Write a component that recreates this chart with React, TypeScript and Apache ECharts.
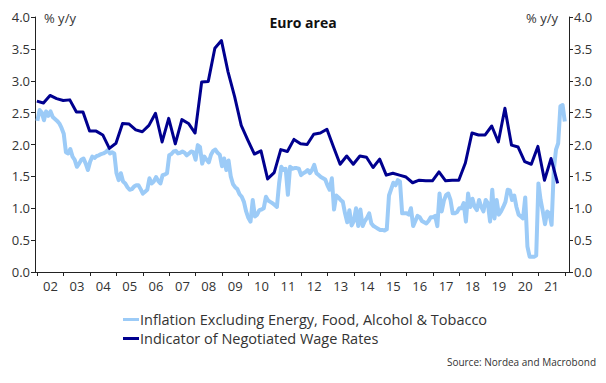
import React, { useEffect, useRef } from "react";
import * as echarts from "echarts";

// Monthly core inflation (Inflation Excluding Energy, Food, Alcohol & Tobacco), Jan 2002 .. Jan 2022
const coreStart = 2002.0;
const core2002 = [2.37, 2.54, 2.50, 2.38, 2.52, 2.45, 2.52, 2.43, 2.40, 2.37, 2.33, 2.26];
const core2003 = [2.17, 1.88, 1.86, 1.93, 1.81, 1.76, 1.65, 1.70, 1.76, 1.78, 1.70, 1.60];
const core2004 = [1.73, 1.81, 1.79, 1.82, 1.83, 1.85, 1.86, 1.88, 1.91, 1.86, 1.88, 1.86];
const core2005 = [1.55, 1.44, 1.55, 1.42, 1.39, 1.33, 1.29, 1.30, 1.34, 1.36, 1.36, 1.30];
const core2006 = [1.23, 1.26, 1.29, 1.47, 1.39, 1.42, 1.49, 1.43, 1.39, 1.52, 1.53, 1.55];
const core2007 = [1.83, 1.85, 1.89, 1.90, 1.86, 1.87, 1.89, 1.87, 1.83, 1.86, 1.89, 1.88];
const core2008 = [1.76, 1.99, 1.96, 1.70, 1.81, 1.76, 1.72, 1.84, 1.90, 1.92, 1.87, 1.84];
const core2009 = [1.66, 1.78, 1.60, 1.75, 1.50, 1.38, 1.33, 1.30, 1.22, 1.18, 1.10, 0.95];
const core2010 = [0.85, 0.79, 1.13, 0.87, 0.90, 0.97, 0.98, 1.00, 1.18, 1.12, 1.10, 1.08];
const core2011 = [1.05, 1.02, 1.39, 1.65, 1.60, 1.62, 1.21, 1.65, 1.62, 1.63, 1.63, 1.62];
const core2012 = [1.52, 1.55, 1.57, 1.60, 1.55, 1.60, 1.68, 1.55, 1.52, 1.49, 1.47, 1.45];
const core2013 = [1.36, 1.29, 1.47, 0.98, 1.20, 1.17, 1.13, 1.10, 0.92, 0.78, 0.97, 0.73];
const core2014 = [0.80, 1.00, 0.72, 0.98, 0.72, 0.80, 0.85, 0.92, 0.76, 0.72, 0.70, 0.68];
const core2015 = [0.66, 0.66, 0.65, 0.67, 1.20, 1.30, 1.40, 1.36, 1.44, 1.42, 0.92, 0.92];
const core2016 = [0.92, 0.90, 1.00, 0.72, 0.80, 0.88, 0.86, 0.80, 0.78, 0.76, 0.80, 0.86];
const core2017 = [0.86, 0.88, 0.72, 1.23, 0.95, 1.12, 1.21, 1.23, 1.13, 0.92, 0.92, 0.94];
const core2018 = [1.00, 1.00, 1.08, 0.79, 1.23, 1.02, 1.15, 1.02, 0.97, 1.13, 1.02, 0.95];
const core2019 = [1.13, 1.08, 0.79, 1.29, 0.84, 1.13, 0.90, 0.95, 1.02, 1.10, 1.29, 1.28];
const core2020 = [1.13, 1.20, 1.02, 0.90, 0.87, 0.84, 1.17, 0.40, 0.24, 0.24, 0.24, 0.26];
const core2021 = [1.39, 1.13, 0.95, 0.75, 0.95, 0.92, 0.74, 1.60, 1.92, 2.02, 2.60, 2.62];
const core2022 = [2.36];

// Quarterly Indicator of Negotiated Wage Rates
const wageStart = 2001.98;
const wage2002 = [2.68, 2.65, 2.77, 2.72];
const wage2003 = [2.69, 2.70, 2.51, 2.51];
const wage2004 = [2.21, 2.21, 2.15, 1.94];
const wage2005 = [2.02, 2.33, 2.32, 2.23];
const wage2006 = [2.20, 2.30, 2.49, 2.04];
const wage2007 = [2.41, 2.01, 2.39, 2.33];
const wage2008 = [2.18, 2.98, 2.99, 3.51];
const wage2009 = [3.63, 3.14, 2.75, 2.30];
const wage2010 = [2.07, 1.85, 1.90, 1.46];
const wage2011 = [1.56, 1.92, 1.89, 2.08];
const wage2012 = [2.01, 2.00, 2.16, 2.18];
const wage2013 = [2.24, 1.96, 1.69, 1.82];
const wage2014 = [1.69, 1.82, 1.80, 1.64];
const wage2015 = [1.77, 1.52, 1.55, 1.52];
const wage2016 = [1.49, 1.40, 1.44, 1.43];
const wage2017 = [1.43, 1.57, 1.43, 1.44];
const wage2018 = [1.44, 1.71, 2.18, 2.15];
const wage2019 = [2.15, 2.29, 2.04, 2.57];
const wage2020 = [1.99, 1.96, 1.73, 1.69];
const wage2021 = [1.97, 1.44, 1.78, 1.39];

const yearTicks = [2002, 2003, 2004, 2005, 2006, 2007, 2008, 2009, 2010, 2011, 2012, 2013, 2014, 2015, 2016, 2017, 2018, 2019, 2020, 2021, 2022];
const yearLabels = ["02", "03", "04", "05", "06", "07", "08", "09", "10", "11", "12", "13", "14", "15", "16", "17", "18", "19", "20", "21"];

const seriesNames = ["Inflation Excluding Energy, Food, Alcohol & Tobacco", "Indicator of Negotiated Wage Rates"];

const coreValues = [
  ...core2002, ...core2003, ...core2004, ...core2005, ...core2006, ...core2007, ...core2008,
  ...core2009, ...core2010, ...core2011, ...core2012, ...core2013, ...core2014, ...core2015,
  ...core2016, ...core2017, ...core2018, ...core2019, ...core2020, ...core2021, ...core2022,
];
const wageValues = [
  ...wage2002, ...wage2003, ...wage2004, ...wage2005, ...wage2006, ...wage2007, ...wage2008,
  ...wage2009, ...wage2010, ...wage2011, ...wage2012, ...wage2013, ...wage2014, ...wage2015,
  ...wage2016, ...wage2017, ...wage2018, ...wage2019, ...wage2020, ...wage2021,
];

const FONT = "'Open Sans', 'Noto Sans', sans-serif";

export default function App() {
  const ref = useRef<HTMLDivElement>(null);
  useEffect(() => {
    document.body.style.margin = "0";
    if (!ref.current) return;
    const chart = echarts.init(ref.current, undefined, { renderer: "svg" });
    const coreData = coreValues.map((v, i) => [coreStart + i / 12, v]);
    const wageData = wageValues.map((v, i) => [wageStart + i * 0.25, v]);
    const labelPos = yearLabels.map((_, i) => yearTicks[i] + 0.5);
    const yAxisCommon = {
      type: "value",
      min: 0,
      max: 4,
      interval: 0.5,
      splitLine: { show: false },
      axisLine: { show: true, lineStyle: { color: "#222", width: 1 } },
      axisTick: { show: true, length: 4, lineStyle: { color: "#222" } },
      axisLabel: {
        color: "#333",
        fontSize: 13,
        fontFamily: FONT,
        margin: 5,
        formatter: (v: number) => v.toFixed(1),
      },
    };
    chart.setOption({
      animation: false,
      backgroundColor: "#fff",
      textStyle: { fontFamily: FONT },
      grid: { left: 35, right: 37, top: 17, bottom: 111, containLabel: false },
      title: {
        text: "Euro area",
        left: "center",
        top: 10,
        textStyle: { fontSize: 14, fontWeight: "bold", color: "#111", fontFamily: FONT },
      },
      graphic: [
        { type: "text", left: 44, top: 11, style: { text: "% y/y", fontSize: 13, fill: "#333", fontFamily: FONT } },
        { type: "text", right: 48, top: 11, style: { text: "% y/y", fontSize: 13, fill: "#333", fontFamily: FONT } },
        { type: "text", right: 10, top: 357, style: { text: "Source: Nordea and Macrobond", fontSize: 10, fill: "#333", fontFamily: FONT } },
      ],
      legend: {
        orient: "vertical",
        left: 118,
        top: 307,
        itemGap: 4,
        itemWidth: 16,
        itemHeight: 3,
        icon: "rect",
        textStyle: { fontSize: 14.5, color: "#333", fontFamily: FONT, padding: [0, 0, 0, -4] },
        data: seriesNames,
      },
      xAxis: {
        type: "value",
        min: 2001.91,
        max: 2022.16,
        splitLine: { show: false },
        axisLine: { show: true, onZero: false, lineStyle: { color: "#222", width: 1 } },
        axisTick: { show: true, length: 4, customValues: yearTicks, lineStyle: { color: "#222" } },
        axisLabel: {
          customValues: labelPos,
          color: "#333",
          fontSize: 13,
          fontFamily: FONT,
          margin: 7,
          formatter: (v: number) => {
            const idx = Math.round(v - 0.5 - 2002);
            return yearLabels[idx] ?? "";
          },
        },
      },
      yAxis: [
        { ...yAxisCommon, position: "left" },
        { ...yAxisCommon, position: "right" },
      ],
      series: [
        {
          name: seriesNames[0],
          type: "line",
          data: coreData,
          showSymbol: false,
          symbol: "none",
          lineStyle: { color: "#9CCBF7", width: 4, join: "round" },
          itemStyle: { color: "#9CCBF7" },
          z: 2,
        },
        {
          name: seriesNames[1],
          type: "line",
          data: wageData,
          showSymbol: false,
          symbol: "none",
          lineStyle: { color: "#00008F", width: 3, join: "round" },
          itemStyle: { color: "#00008F" },
          z: 3,
        },
      ],
    });
    return () => chart.dispose();
  }, []);
  return <div ref={ref} style={{ width: 606, height: 383 }} />;
}
